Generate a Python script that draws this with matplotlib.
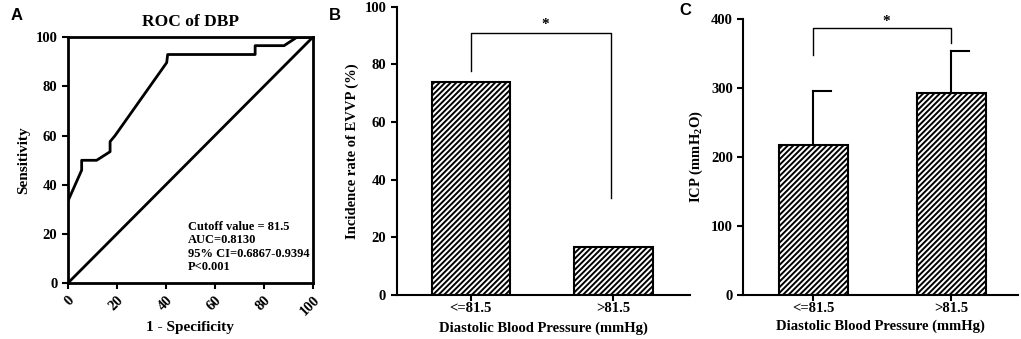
import matplotlib
matplotlib.use('Agg')
from matplotlib import pyplot as plt

plt.rcParams['font.family'] = 'Liberation Serif'
plt.rcParams['font.weight'] = 'bold'
plt.rcParams['axes.labelweight'] = 'bold'
plt.rcParams['hatch.linewidth'] = 1.4
plt.rcParams['axes.linewidth'] = 1.5

# Panel A: ROC curve
roc_fpr  = [0, 5.7, 5.7, 11.8, 17.3, 17.3, 19.3, 40.4, 40.8, 76.5, 76.5, 88.3, 93.5, 100]
roc_sens = [33.2, 46, 50, 50, 53.5, 57.6, 60, 89.7, 93, 93, 96.6, 96.6, 100, 100]
ref_line = [0, 100]
roc_text = "Cutoff value = 81.5\nAUC=0.8130\n95% CI=0.6867-0.9394\nP<0.001"

# Panel B: incidence of EVVP
groups   = ['<=81.5', '>81.5']
evvp     = [74, 16.7]

# Panel C: ICP
icp      = [217.4, 293.2]
icp_sd   = [78.6, 60.4]

fig = plt.figure(figsize=(10.21, 3.39), dpi=100)

tickKW = {'labelsize': 10.5, 'width': 1.5, 'length': 4, 'direction': 'out'}

#############################################################################
axA = fig.add_axes([0.0663, 0.1643, 0.240, 0.7257])
axA.plot(roc_fpr, roc_sens, color='black', linewidth=2)
axA.plot(ref_line, ref_line, color='black', linewidth=2)
axA.set_xlim(0, 100)
axA.set_ylim(0, 100)
axA.set_xticks(range(0, 101, 20))
axA.set_yticks(range(0, 101, 20))
axA.tick_params(**tickKW)
for lab in axA.get_xticklabels():
  lab.set_rotation(45)
  lab.set_ha('right')
  lab.set_va('top')
  lab.set_rotation_mode('anchor')
for sp in axA.spines.values():
  sp.set_linewidth(2)
axA.set_title('ROC of DBP', fontsize=12.5, fontweight='bold', pad=8)
axA.set_xlabel('1 - Specificity', fontsize=11, labelpad=2)
axA.set_ylabel('Sensitivity', fontsize=11)
axA.text(49, 25.5, roc_text, fontsize=9, va='top', ha='left', linespacing=1.18)

#############################################################################
axB = fig.add_axes([0.3885, 0.1298, 0.2873, 0.8505])
axB.bar([0, 1], evvp, width=0.55, color='white', edgecolor='black',
        hatch='//////', linewidth=1.5)
axB.set_xlim(-0.521, 1.537)
axB.set_ylim(0, 100)
axB.set_yticks(range(0, 101, 20))
axB.set_xticks([0, 1])
axB.set_xticklabels(groups)
axB.tick_params(**tickKW)
axB.tick_params(axis='x', pad=1)
axB.spines['top'].set_visible(False)
axB.spines['right'].set_visible(False)
axB.set_xlabel('Diastolic Blood Pressure (mmHg)', fontsize=10.5, labelpad=5)
axB.set_ylabel('Incidence rate of EVVP (%)', fontsize=10.5)
axB.plot([0, 0, 0.98, 0.98], [77.8, 90.8, 90.8, 33.5], color='black', linewidth=1)
axB.text(0.52, 91.5, '*', ha='center', va='bottom', fontsize=11)

#############################################################################
axC = fig.add_axes([0.728, 0.1298, 0.269, 0.814])
axC.bar([0, 1], icp, width=0.5, color='white', edgecolor='black',
        hatch='//////', linewidth=1.5, zorder=2)
for i, (m, s) in enumerate(zip(icp, icp_sd)):
  axC.plot([i, i], [m, m + s], color='black', linewidth=1.5, zorder=1)
  axC.plot([i, i + 0.13], [m + s, m + s], color='black', linewidth=1.5, zorder=1)
axC.set_xlim(-0.51, 1.485)
axC.set_ylim(0, 400)
axC.set_yticks(range(0, 401, 100))
axC.set_xticks([0, 1])
axC.set_xticklabels(groups)
axC.tick_params(**tickKW)
axC.tick_params(axis='x', pad=1)
axC.spines['top'].set_visible(False)
axC.spines['right'].set_visible(False)
axC.set_xlabel('Diastolic Blood Pressure (mmHg)', fontsize=10.5, labelpad=3)
axC.set_ylabel('ICP (mmH$_\\mathregular{2}$O)', fontsize=10.5)
axC.plot([0, 0, 1, 1], [347.8, 386.5, 386.5, 365.7], color='black', linewidth=1)
axC.text(0.53, 387, '*', ha='center', va='bottom', fontsize=11)

#############################################################################
for x, y, l in [(0.010, 0.955, 'A'), (0.322, 0.955, 'B'), (0.665, 0.97, 'C')]:
  fig.text(x, y, l, fontsize=12, fontweight='bold', family='Liberation Sans',
           va='center', ha='left')

fig.savefig('out.png', dpi=100)
